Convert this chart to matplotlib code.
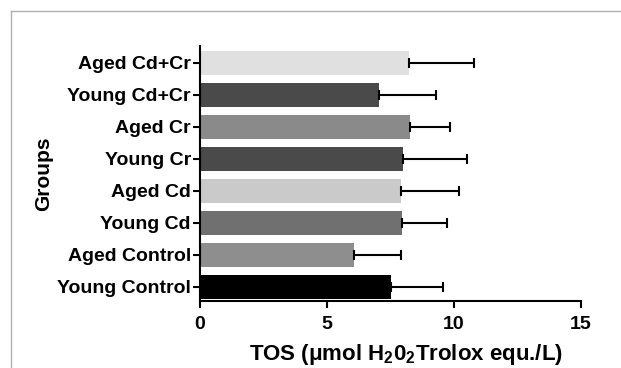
import numpy as np
import matplotlib
matplotlib.use("Agg")
from matplotlib import pyplot as plt
from matplotlib.lines import Line2D

groups = ["Young Control", "Aged Control", "Young Cd", "Aged Cd",
          "Young Cr", "Aged Cr", "Young Cd+Cr", "Aged Cd+Cr"]
tos_mean = [7.52, 6.06, 7.95, 7.91, 7.99, 8.27, 7.05, 8.23]
tos_err = [2.05, 1.85, 1.77, 2.29, 2.52, 1.57, 2.24, 2.56]
bar_colors = ["#000000", "#8e8e8e", "#707070", "#cacaca",
              "#4a4a4a", "#8a8a8a", "#4a4a4a", "#e0e0e0"]

plt.rcParams["font.family"] = ["Liberation Sans", "DejaVu Sans"]
plt.rcParams["font.weight"] = "bold"
plt.rcParams["mathtext.fontset"] = "custom"
plt.rcParams["mathtext.rm"] = "Liberation Sans:bold"
plt.rcParams["mathtext.bf"] = "Liberation Sans:bold"
plt.rcParams["mathtext.it"] = "Liberation Sans:bold"

fig = plt.figure(figsize=(6.21, 3.68), dpi=100)
ax = fig.add_axes([0.322, 0.182, 0.6135, 0.693])

y = np.arange(len(groups))
ax.barh(y, tos_mean, height=0.75, color=bar_colors, zorder=2)
ax.errorbar(tos_mean, y, xerr=[np.zeros(len(groups)), tos_err], fmt="none",
            ecolor="black", elinewidth=1.5, capsize=3.6, capthick=1.5, zorder=3)

ax.set_xlim(0, 15)
ax.set_ylim(-0.44, 7.53)
ax.set_xticks([0, 5, 10, 15])
ax.set_yticks(y)
ax.set_yticklabels(groups)
ax.tick_params(axis="both", labelsize=14, width=1.5, length=5, direction="out")
ax.tick_params(axis="y", pad=1.5)
ax.tick_params(axis="x", pad=5.5)
ax.spines["top"].set_visible(False)
ax.spines["right"].set_visible(False)
ax.spines["left"].set_linewidth(1.5)
ax.spines["bottom"].set_linewidth(1.5)

ax.set_xlabel(r"TOS ($\mathregular{\mu}$mol H$_2$0$_2$Trolox equ./L)", fontsize=16, fontweight="bold")
ax.xaxis.set_label_coords(0.54, -0.16)
ax.set_ylabel("Groups", fontsize=15, fontweight="bold")
ax.yaxis.set_label_coords(-0.386, 0.5)

# light frame around the figure (left and top)
fig.add_artist(Line2D([11 / 621, 11 / 621], [0, 1 - 11 / 368], color="#b0b0b0", lw=1))
fig.add_artist(Line2D([11 / 621, 1], [1 - 11 / 368, 1 - 11 / 368], color="#b0b0b0", lw=1))

plt.savefig("out.png", dpi=100)
